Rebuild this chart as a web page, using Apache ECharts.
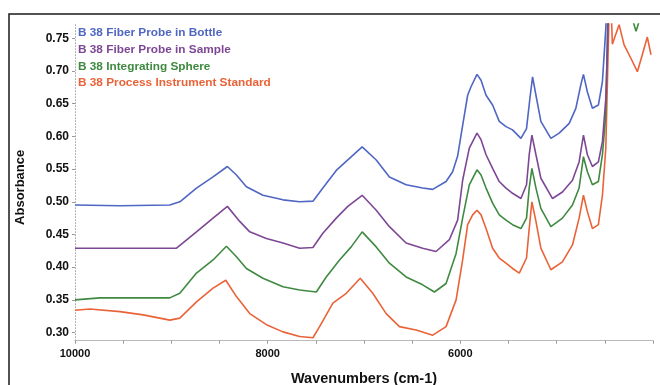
<!DOCTYPE html>
<html>
<head>
<meta charset="utf-8">
<script src="https://cdn.jsdelivr.net/npm/echarts@6/dist/echarts.min.js"></script>
<style>
html,body{margin:0;padding:0;background:#fff;}
#chart{width:660px;height:385px;}
</style>
</head>
<body>
<div id="chart"></div>
<script>
// Series names
const seriesNames = [
  'B 38 Fiber Probe in Bottle',
  'B 38 Fiber Probe in Sample',
  'B 38 Integrating Sphere',
  'B 38 Process Instrument Standard'
];

// B 38 Fiber Probe in Bottle
const bottleWn  = [10000,9534,9016,8912,8739,8567,8418,8324,8221,8049,7841,7668,7530,7427,7288,7168,7019,6873,6736,6563,6391,6287,6148,6080,6028,5976,5924,5889,5827,5785,5733,5665,5596,5526,5458,5371,5313,5278,5250,5215,5164,5060,4974,4870,4801,4749,4722,4681,4629,4567,4525,4490,4470,4000];
const bottleAbs = [0.495,0.494,0.495,0.500,0.521,0.538,0.554,0.541,0.523,0.510,0.503,0.500,0.501,0.521,0.548,0.564,0.584,0.564,0.538,0.526,0.521,0.519,0.531,0.546,0.570,0.617,0.663,0.676,0.695,0.686,0.663,0.648,0.623,0.615,0.610,0.597,0.612,0.658,0.691,0.663,0.623,0.597,0.605,0.620,0.643,0.679,0.695,0.668,0.643,0.648,0.684,0.765,0.850,0.900];

// B 38 Fiber Probe in Sample
const sampleWn  = [10000,9534,8946,8739,8567,8418,8290,8186,8013,7841,7668,7530,7427,7288,7168,7019,6873,6736,6563,6391,6252,6114,6028,5976,5907,5827,5785,5733,5665,5596,5526,5458,5371,5313,5285,5257,5215,5164,5043,4940,4836,4767,4722,4681,4629,4567,4525,4490,4473,4455,4000];
const sampleAbs = [0.429,0.429,0.429,0.454,0.475,0.493,0.470,0.454,0.444,0.437,0.429,0.430,0.452,0.475,0.493,0.510,0.487,0.462,0.437,0.429,0.424,0.442,0.472,0.533,0.582,0.605,0.595,0.572,0.551,0.531,0.521,0.513,0.505,0.526,0.572,0.602,0.572,0.536,0.505,0.515,0.533,0.561,0.602,0.572,0.554,0.561,0.592,0.658,0.735,0.850,0.900];

// B 38 Integrating Sphere
const sphereWn  = [10000,9741,9016,8912,8739,8567,8428,8324,8221,8049,7841,7668,7495,7392,7254,7133,7019,6873,6736,6563,6391,6269,6148,6044,5976,5907,5827,5785,5733,5665,5596,5526,5458,5371,5313,5285,5257,5215,5164,5060,4940,4836,4767,4722,4681,4629,4567,4525,4490,4460,4250,4215,4176,4135,4100,4000];
const sphereAbs = [0.350,0.353,0.353,0.360,0.391,0.411,0.432,0.416,0.398,0.383,0.370,0.365,0.362,0.385,0.411,0.431,0.454,0.431,0.406,0.385,0.373,0.362,0.375,0.421,0.475,0.526,0.549,0.541,0.521,0.498,0.480,0.472,0.465,0.459,0.475,0.521,0.551,0.521,0.490,0.462,0.475,0.495,0.521,0.569,0.546,0.526,0.531,0.572,0.633,0.850,0.850,0.780,0.761,0.780,0.850,0.900];

// B 38 Process Instrument Standard
const standardWn  = [10000,9845,9534,9292,9016,8912,8739,8567,8435,8324,8186,8013,7841,7668,7530,7461,7323,7184,7039,6909,6770,6632,6459,6287,6148,6044,5976,5924,5872,5827,5785,5733,5665,5596,5526,5458,5388,5313,5285,5257,5215,5164,5060,4940,4836,4767,4722,4681,4629,4567,4525,4490,4473,4446,4422,4352,4300,4231,4162,4111,4059,4021];
const standardAbs = [0.334,0.336,0.332,0.327,0.319,0.322,0.347,0.368,0.380,0.355,0.329,0.312,0.301,0.294,0.292,0.309,0.345,0.360,0.383,0.360,0.329,0.309,0.304,0.296,0.309,0.350,0.411,0.465,0.480,0.487,0.480,0.459,0.429,0.414,0.406,0.398,0.391,0.414,0.459,0.500,0.470,0.429,0.396,0.408,0.434,0.475,0.510,0.485,0.459,0.465,0.510,0.582,0.684,0.850,0.741,0.771,0.740,0.720,0.699,0.725,0.752,0.725];

// Axis tick labels
const yTickLabels = [0.30,0.35,0.40,0.45,0.50,0.55,0.60,0.65,0.70,0.75];
const xTickLabels = [10000,8000,6000];

const colors = ['#4f66c2','#7d4795','#3f8a40','#ea6338'];

function pairs(wn, ab){ return wn.map((w,i)=>[w, ab[i]]); }
const seriesData = [
  pairs(bottleWn, bottleAbs),
  pairs(sampleWn, sampleAbs),
  pairs(sphereWn, sphereAbs),
  pairs(standardWn, standardAbs)
];

const chart = echarts.init(document.getElementById('chart'), null, {renderer:'canvas'});
const font = 'Liberation Sans, Arial, sans-serif';
chart.setOption({
  animation: false,
  backgroundColor: '#fff',
  grid: {left: 75, right: 7, top: 24, bottom: 44.3, containLabel: false, outerBoundsMode: 'none'},
  legend: {
    orient: 'vertical',
    left: 73, top: 26,
    icon: 'none',
    itemWidth: 0, itemHeight: 14, itemGap: 2.7,
    padding: 0,
    selectedMode: false,
    data: seriesNames.map((n,i)=>({name:n, textStyle:{color:colors[i]}})),
    textStyle: {fontFamily: font, fontSize: 11.8, fontWeight: 'bold', lineHeight: 14}
  },
  xAxis: {
    type: 'value', min: 4000, max: 10000, interval: 500, inverse: true,
    name: 'Wavenumbers (cm-1)', nameLocation: 'middle', nameGap: 31,
    nameTextStyle: {fontFamily: font, fontSize: 14.5, fontWeight: 'bold', color: '#111'},
    axisLine: {show: true, lineStyle: {color: '#bbb', width: 1}},
    axisTick: {show: true, length: 3, lineStyle: {color: '#999'}},
    axisLabel: {customValues: xTickLabels, formatter: v => String(v), fontFamily: font, fontSize: 11, fontWeight: 'bold', color: '#111', margin: 8},
    splitLine: {show: false}
  },
  yAxis: {
    type: 'value', min: 0.2875, max: 0.772,
    name: 'Absorbance', nameLocation: 'middle', nameGap: 48,
    nameTextStyle: {fontFamily: font, fontSize: 13, fontWeight: 'bold', color: '#111', padding: [0, 10, 0, 0]},
    axisLine: {show: true, lineStyle: {color: '#aaa', width: 1, type: [1, 2]}},
    axisTick: {show: true, length: 3, customValues: yTickLabels, lineStyle: {color: '#999'}},
    axisLabel: {customValues: yTickLabels, formatter: v => v.toFixed(2), fontFamily: font, fontSize: 12, fontWeight: 'bold', color: '#111', margin: 6},
    splitLine: {show: false}
  },
  series: seriesNames.map((n,i)=>({
    name: n, type: 'line', data: seriesData[i], showSymbol: false, symbol: 'none',
    clip: true, lineStyle: {color: colors[i], width: 1.6}, itemStyle: {color: colors[i]},
    z: 4 - i
  })),
  graphic: [{
    type: 'rect', shape: {x: 9, y: 14, width: 700, height: 420},
    style: {fill: 'none', stroke: '#1a1a1a', lineWidth: 1.5}, silent: true, z: 100
  }]
});
</script>
</body>
</html>
